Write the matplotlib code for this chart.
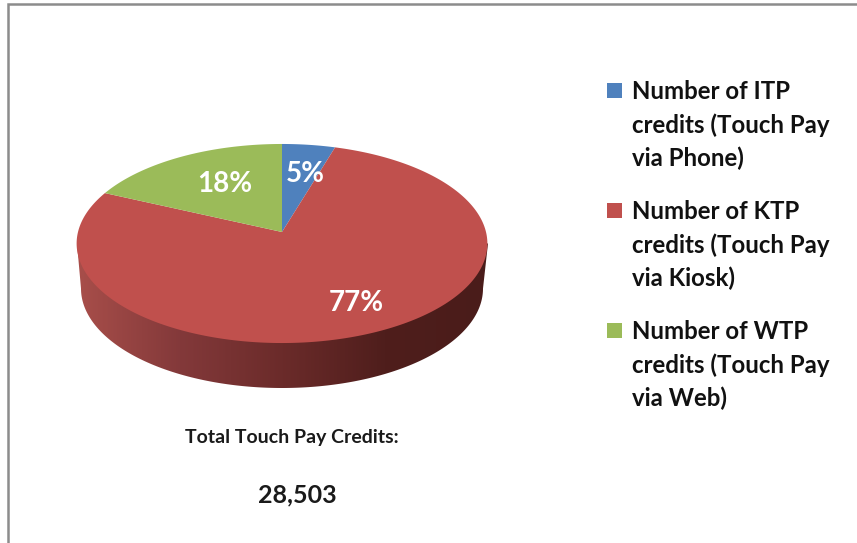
# Touch Pay credits pie, drawn with a tilted look like the office 3D pie
import numpy as np
import matplotlib
matplotlib.use("Agg")
import matplotlib.pyplot as plt
import matplotlib.transforms as mtransforms
from matplotlib.colors import LinearSegmentedColormap
from matplotlib.patches import Polygon, Rectangle
from matplotlib.path import Path

plt.rcParams["font.family"] = ["Lato", "DejaVu Sans"]

# estimated counts, the picture only shows the shares and the total
channels = ["ITP", "KTP", "WTP"]
credits = [1330, 21990, 5183]
legend_labels = [
    "Number of ITP\ncredits (Touch Pay\nvia Phone)",
    "Number of KTP\ncredits (Touch Pay\nvia Kiosk)",
    "Number of WTP\ncredits (Touch Pay\nvia Web)",
]
colors = ["#4f81bd", "#c0504d", "#9bbb59"]
wall_colors = ["#a84e4a", "#83393a", "#6b2b2a", "#4f1e1c", "#4a1c1a"]

H = 543
APEX_X, APEX_Y = 282, H - 232
TILT_A, TILT_B, TILT_C = 98.2, 204.0, 0.1156
DEPTH = 45


class PieTilt(mtransforms.Transform):
    # unit circle -> perspective ellipse in pixel coordinates
    input_dims = 2
    output_dims = 2

    def transform_non_affine(self, xy):
        xy = np.asarray(xy, dtype=float)
        w = 1 + TILT_C * xy[:, 1]
        return np.column_stack(
            [APEX_X + TILT_B * xy[:, 0] / w, APEX_Y + TILT_A * xy[:, 1] / w]
        )

    def transform_path_non_affine(self, path):
        # flatten at a large scale so the arc stays smooth
        big = path.transformed(mtransforms.Affine2D().scale(2000))
        poly = big.to_polygons(closed_only=True)[0] / 2000
        return Path(self.transform_non_affine(poly), closed=True)


fig = plt.figure(figsize=(8.57, 5.43), dpi=100)
ax = fig.add_axes([0, 0, 1, 1])

wedges, _, autotexts = ax.pie(
    credits,
    colors=colors,
    startangle=90,
    counterclock=False,
    autopct="%.0f%%",
    wedgeprops={"linewidth": 0},
    textprops={"color": "white", "fontsize": 20, "fontweight": "bold"},
)
tilt = PieTilt()
for w in wedges:
    w.set_transform(tilt + ax.transData)
    w.set_zorder(3)

# side wall with the left to right shading
t = np.linspace(np.pi, 2 * np.pi, 200)
cy = H - 243.5 - DEPTH
wall = np.column_stack([282 + 201 * np.cos(t), cy + 99.5 * np.sin(t)])
wall = np.vstack([[77, H - 243.5], wall, [488, H - 243.5]])
cmap = LinearSegmentedColormap.from_list("wall", wall_colors)
im = ax.imshow(
    np.linspace(0, 1, 400).reshape(1, -1),
    cmap=cmap,
    extent=(77, 488, H - 392, H - 240),
    aspect="auto",
    zorder=2,
)
im.set_clip_path(Polygon(wall, closed=True, transform=ax.transData))

ax.set_xlim(0, 857)
ax.set_ylim(0, H)
ax.set_aspect("auto")

# percent labels
label_pos = [(305, H - 174), (356, H - 303), (225, H - 184)]
for txt, pos in zip(autotexts, label_pos):
    txt.set_position(pos)
    txt.set_zorder(5)

# legend, marker sits on the first line of each entry
for i, label in enumerate(legend_labels):
    y = 91 + 120 * i
    ax.add_patch(Rectangle((607, H - y - 7), 15, 15, facecolor=colors[i], edgecolor="none", zorder=4))
    ax.text(632, H - y + 11, label, fontsize=17.3, fontweight="bold", color="#111111",
            va="top", ha="left", linespacing=1.52, zorder=5)

total = sum(credits)
ax.text(292, H - 437, "Total Touch Pay Credits:", fontsize=14, fontweight="bold",
        color="#1a1a1a", ha="center", va="center")
ax.text(297, H - 495, f"{total:,}", fontsize=18, fontweight="bold",
        color="#1a1a1a", ha="center", va="center")

# chart frame, only top and left are inside the crop
ax.plot([8, 8, 857], [0, H - 4, H - 4], color="#8c8c8c", linewidth=1.8, solid_joinstyle="miter", zorder=1)

fig.savefig("out.png", dpi=100)
